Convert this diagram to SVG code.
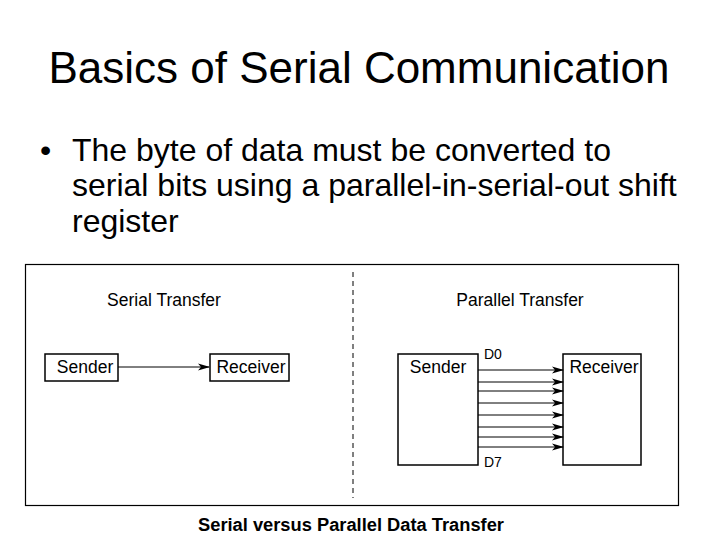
<svg xmlns="http://www.w3.org/2000/svg" width="720" height="540" viewBox="0 0 720 540">
<style>
text{font-family:"Liberation Sans",Arial,sans-serif;fill:#000}
.box{fill:#fff;stroke:#000;stroke-width:1.5}
.lbl{font-size:17.5px}
.wire{stroke:#000;stroke-width:1;marker-end:url(#ah)}
</style>
<defs><marker id="ah" markerWidth="12" markerHeight="8" refX="11" refY="4" orient="auto" markerUnits="userSpaceOnUse"><path d="M0,0.5 L12,4 L0,7.5 L3,4 Z" fill="#000"/></marker></defs>
<rect width="720" height="540" fill="#fff"/>
<text x="359" y="83" font-size="44" text-anchor="middle">Basics of Serial Communication</text>
<text x="40" y="161" font-size="32">•</text>
<text x="72" y="161" font-size="32">The byte of data must be converted to</text>
<text x="72" y="196" font-size="32">serial bits using a parallel-in-serial-out shift</text>
<text x="72" y="232" font-size="32">register</text>
<rect x="25.5" y="264.5" width="653" height="241" fill="none" stroke="#000" stroke-width="1.2"/>
<line x1="353" y1="272" x2="353" y2="498" stroke="#000" stroke-dasharray="5,4"/>
<text x="164" y="306" class="lbl" text-anchor="middle">Serial Transfer</text>
<text x="520" y="306" class="lbl" text-anchor="middle">Parallel Transfer</text>
<g id="s-sender"><rect class="box" x="45" y="354" width="73" height="27"/><text x="85" y="373" class="lbl" text-anchor="middle">Sender</text></g>
<g id="s-receiver"><rect class="box" x="210" y="354" width="79" height="27"/><text x="251" y="373" class="lbl" text-anchor="middle">Receiver</text></g>
<g id="p-sender"><rect class="box" x="398" y="354" width="80" height="111"/><text x="438" y="373" class="lbl" text-anchor="middle">Sender</text></g>
<g id="p-receiver"><rect class="box" x="563" y="354" width="78" height="111"/><text x="604" y="373" class="lbl" text-anchor="middle">Receiver</text></g>
<text x="484" y="359" font-size="14">D0</text>
<text x="484" y="467" font-size="14">D7</text>
<g id="connectors">
<line class="wire" x1="118" y1="367" x2="209" y2="367"/>
<line class="wire" x1="478" y1="370" x2="563" y2="370"/>
<line class="wire" x1="478" y1="382" x2="563" y2="382"/>
<line class="wire" x1="478" y1="391" x2="563" y2="391"/>
<line class="wire" x1="478" y1="403" x2="563" y2="403"/>
<line class="wire" x1="478" y1="415" x2="563" y2="415"/>
<line class="wire" x1="478" y1="427" x2="563" y2="427"/>
<line class="wire" x1="478" y1="437" x2="563" y2="437"/>
<line class="wire" x1="478" y1="447" x2="563" y2="447"/>
</g>
<text x="351" y="531" font-size="18.3" font-weight="bold" text-anchor="middle">Serial versus Parallel Data Transfer</text>
</svg>
